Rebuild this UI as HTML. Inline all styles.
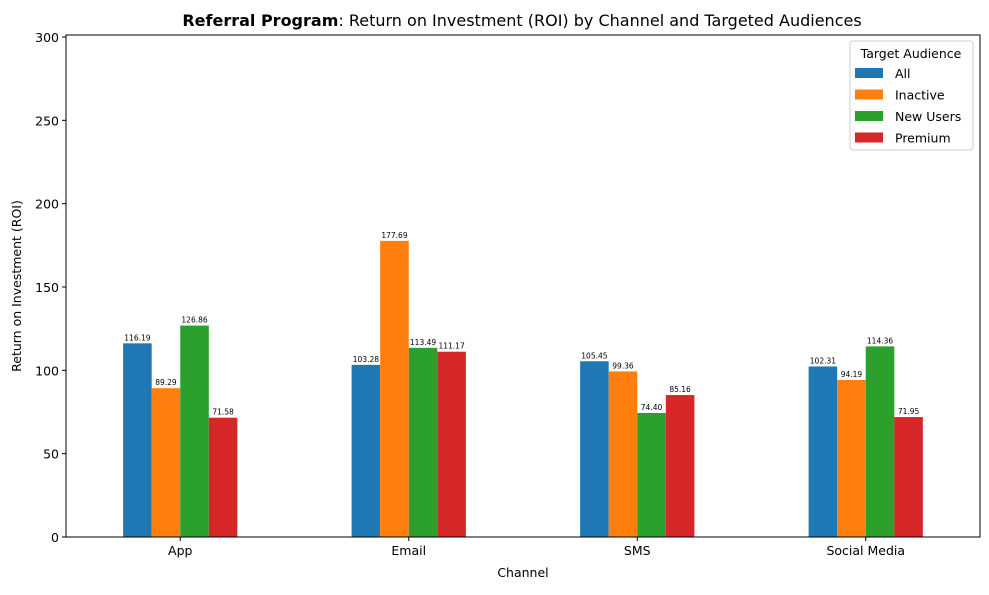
<!DOCTYPE html>
<html><head><meta charset="utf-8"><style>
body{margin:0;background:#fff;font-family:"Liberation Sans","DejaVu Sans",sans-serif}
svg text{font-family:"DejaVu Sans","Liberation Sans",sans-serif}
</style></head><body>
<svg id="chart" width="989" height="590" xmlns="http://www.w3.org/2000/svg"></svg>
<script>
const categories = ["App","Email","SMS","Social Media"];
const seriesNames = ["All","Inactive","New Users","Premium"];
const seriesColors = ["#1f77b4","#ff7f0e","#2ca02c","#d62728"];
const valuesAll = [116.19,103.28,105.45,102.31];
const valuesInactive = [89.29,177.69,99.36,94.19];
const valuesNewUsers = [126.86,113.49,74.40,114.36];
const valuesPremium = [71.58,111.17,85.16,71.95];
const yTicks = [0,50,100,150,200,250,300];

const series = [valuesAll,valuesInactive,valuesNewUsers,valuesPremium];
const svg = document.getElementById('chart');
const NS = 'http://www.w3.org/2000/svg';
const L=66,R=980,T=35,B=537, yMax=301.2;
const y = v => B - v/yMax*(B-T);
const step=(R-L)/categories.length;
const xc = i => L + step*(i+0.5);
const bw = step*0.5/series.length;
function el(tag,attrs,text){const e=document.createElementNS(NS,tag);for(const k in attrs)e.setAttribute(k,attrs[k]);if(text!==undefined)e.textContent=text;svg.appendChild(e);return e;}

const t=el('text',{x:522,y:26,'text-anchor':'middle','font-size':16});


const tb=document.createElementNS(NS,'tspan');tb.setAttribute('font-weight','bold');tb.textContent='Referral Program';t.appendChild(tb);
const tr=document.createElementNS(NS,'tspan');tr.textContent=': Return on Investment (ROI) by Channel and Targeted Audiences';t.appendChild(tr);

series.forEach((vals,s)=>{
  vals.forEach((v,i)=>{
    const x0 = xc(i) - 2*bw + s*bw;
    const r=el('rect',{x:x0,y:y(v),width:bw,height:B-y(v),fill:seriesColors[s]});
    
    
    const lb=el('text',{x:x0+bw/2,y:y(v)-3,'text-anchor':'middle','font-size':7.5},v.toFixed(2));
    
    
  });
});

const fr=el('rect',{x:L,y:T,width:R-L,height:B-T,fill:'none',stroke:'#000','stroke-width':1});



yTicks.forEach(v=>{
  el('line',{x1:L-4,x2:L,y1:y(v),y2:y(v),stroke:'#000'});
  const tx=el('text',{x:L-7,y:y(v)+5,'text-anchor':'end','font-size':12.5},v);
  
  
});
categories.forEach((c,i)=>{
  el('line',{x1:xc(i),x2:xc(i),y1:B,y2:B+4,stroke:'#000'});
  const tx=el('text',{x:xc(i),y:B+18,'text-anchor':'middle','font-size':12.5},c);
  
  
});
const xt=el('text',{x:523,y:577,'text-anchor':'middle','font-size':12.5},'Channel');


const yt=el('text',{x:21,y:286,'text-anchor':'middle','font-size':12.5,transform:'rotate(-90 21 286)'},'Return on Investment (ROI)');



const lg=el('rect',{x:850,y:41,width:123,height:109,rx:3,fill:'#fff',stroke:'#ccc'});


el('text',{x:911,y:58,'text-anchor':'middle','font-size':12.5},'Target Audience');
seriesNames.forEach((n,s)=>{
  const yy=68+s*21.5;
  const p=el('rect',{x:855,y:yy,width:28,height:10,fill:seriesColors[s]});
  
  
  el('text',{x:895,y:yy+10,'font-size':12.5},n);
});
</script>
</body></html>
